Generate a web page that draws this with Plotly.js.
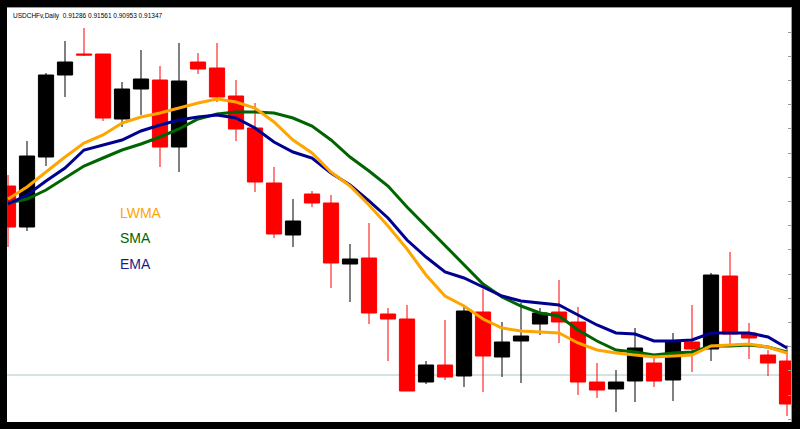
<!DOCTYPE html>
<html>
<head>
<meta charset="utf-8">
<script src="https://cdn.plot.ly/plotly-3.0.1.min.js"></script>
<style>
html,body{margin:0;padding:0;background:#ffffff;}
#chart{width:800px;height:429px;}
</style>
</head>
<body>
<div id="chart"></div>
<script>
// Daily candles (index = bar number)
var bars = [0,1,2,3,4,5,6,7,8,9,10,11,12,13,14,15,16,17,18,19,20,21,22,23,24,25,26,27,28,29,30,31,32,33,34,35,36,37,38,39,40,41];
var openP  = [0.9314,0.9273,0.9343,0.9425,0.9446,0.9446,0.9381,0.9411,0.9420,0.9353,0.9438,0.9432,0.9404,0.9372,0.9317,0.9265,0.9306,0.9297,0.9236,0.9242,0.9186,0.9181,0.9118,0.9135,0.9124,0.9188,0.9143,0.9159,0.9176,0.9188,0.9178,0.9118,0.9111,0.9119,0.9137,0.9120,0.9158,0.9151,0.9224,0.9167,0.9145,0.9139];
var highP  = [0.9325,0.9359,0.9427,0.9459,0.9472,0.9446,0.9418,0.9450,0.9434,0.9457,0.9447,0.9457,0.9420,0.9397,0.9333,0.9301,0.9309,0.9305,0.9256,0.9277,0.9192,0.9195,0.9139,0.9180,0.9193,0.9211,0.9178,0.9197,0.9192,0.9220,0.9193,0.9137,0.9130,0.9172,0.9145,0.9167,0.9195,0.9227,0.9248,0.9177,0.9150,0.9155];
var lowP   = [0.9253,0.9269,0.9334,0.9403,0.9444,0.9379,0.9373,0.9385,0.9333,0.9328,0.9426,0.9398,0.9359,0.9308,0.9262,0.9253,0.9293,0.9212,0.9198,0.9176,0.9139,0.9109,0.9116,0.9120,0.9113,0.9108,0.9123,0.9117,0.9165,0.9157,0.9105,0.9102,0.9088,0.9098,0.9113,0.9099,0.9128,0.9139,0.9154,0.9141,0.9124,0.9084];
var closeP = [0.9273,0.9344,0.9425,0.9438,0.9445,0.9382,0.9411,0.9421,0.9353,0.9419,0.9431,0.9403,0.9371,0.9318,0.9266,0.9279,0.9297,0.9237,0.9241,0.9187,0.9181,0.9109,0.9135,0.9123,0.9189,0.9144,0.9158,0.9164,0.9187,0.9178,0.9118,0.9110,0.9118,0.9152,0.9119,0.9158,0.9151,0.9225,0.9166,0.9162,0.9137,0.9096];

// Moving averages
var lwma = [0.9301,0.9313,0.9328,0.9343,0.9357,0.9365,0.9377,0.9383,0.9387,0.9392,0.9397,0.9401,0.9398,0.9392,0.9378,0.9360,0.9347,0.9328,0.9314,0.9295,0.9274,0.9251,0.9225,0.9204,0.9194,0.9181,0.9172,0.9169,0.9168,0.9167,0.9157,0.9150,0.9147,0.9145,0.9143,0.9144,0.9145,0.9154,0.9155,0.9156,0.9153,0.9147];
var sma  = [0.9297,0.9301,0.9310,0.9322,0.9334,0.9342,0.9350,0.9356,0.9363,0.9371,0.9381,0.9386,0.9388,0.9388,0.9387,0.9382,0.9374,0.9360,0.9343,0.9329,0.9314,0.9293,0.9274,0.9255,0.9235,0.9216,0.9203,0.9194,0.9187,0.9184,0.9170,0.9159,0.9150,0.9148,0.9145,0.9147,0.9148,0.9154,0.9154,0.9155,0.9153,0.9148];
var ema  = [0.9296,0.9305,0.9319,0.9332,0.9350,0.9355,0.9360,0.9369,0.9375,0.9380,0.9383,0.9385,0.9382,0.9372,0.9358,0.9348,0.9342,0.9327,0.9315,0.9299,0.9282,0.9260,0.9243,0.9228,0.9222,0.9213,0.9204,0.9199,0.9197,0.9195,0.9185,0.9175,0.9167,0.9166,0.9159,0.9159,0.9160,0.9167,0.9167,0.9167,0.9163,0.9152];

var levelLine = 0.9125;
var titleText = 'USDCHFv,Daily  0.91286 0.91561 0.90953 0.91347';
var maNames = ['LWMA','SMA','EMA'];

var traces = [
  {type:'scatter', mode:'lines', x:bars, y:sma, line:{color:'#006400', width:3}, hoverinfo:'skip'},
  {type:'scatter', mode:'lines', x:bars, y:ema, line:{color:'#000090', width:3}, hoverinfo:'skip'},
  {type:'scatter', mode:'lines', x:bars, y:lwma, line:{color:'#FFA500', width:3}, hoverinfo:'skip'},
  {type:'candlestick', x:bars, open:openP, high:highP, low:lowP, close:closeP,
   increasing:{line:{color:'#000000', width:1}, fillcolor:'#000000'},
   decreasing:{line:{color:'#FF0000', width:1}, fillcolor:'#FF0000'},
   whiskerwidth:0, hoverinfo:'skip'}
];

var layout = {
  width:800, height:429,
  margin:{l:7, r:9, t:8, b:7, pad:0},
  paper_bgcolor:'#000000',
  plot_bgcolor:'#ffffff',
  showlegend:false,
  boxgap:0.2, boxgroupgap:0,
  xaxis:{range:[-0.053,41.21], showgrid:false, zeroline:false, showticklabels:false, ticks:'', rangeslider:{visible:false}, fixedrange:true,
         showline:true, side:'top', linecolor:'#9a9a9a', linewidth:1},
  yaxis:{range:[0.9078,0.9492], showgrid:false, zeroline:false, showticklabels:false, fixedrange:true,
         side:'right', showline:true, linecolor:'#9a9a9a', linewidth:1,
         ticks:'inside', ticklen:3, tickcolor:'#9a9a9a', tickmode:'linear', tick0:0.9468, dtick:0.00242},
  shapes:[
    {type:'line', xref:'paper', x0:0, x1:1, yref:'y', y0:levelLine, y1:levelLine, line:{color:'#a9c6c6', width:1}, layer:'below'}
  ],
  annotations:[
    {xref:'paper', yref:'paper', x:0.005, y:0.995, xanchor:'left', yanchor:'top', text:titleText, showarrow:false, font:{family:'Liberation Sans, Arial, sans-serif', size:6.5, color:'#000000'}},
    {xref:'paper', yref:'paper', x:0.1416, y:0.5048, xanchor:'left', yanchor:'middle', text:maNames[0], showarrow:false, font:{family:'Liberation Sans, Arial, sans-serif', size:14, color:'#FFA500'}},
    {xref:'paper', yref:'paper', x:0.1416, y:0.4444, xanchor:'left', yanchor:'middle', text:maNames[1], showarrow:false, font:{family:'Liberation Sans, Arial, sans-serif', size:14, color:'#006400'}},
    {xref:'paper', yref:'paper', x:0.1416, y:0.3816, xanchor:'left', yanchor:'middle', text:maNames[2], showarrow:false, font:{family:'Liberation Sans, Arial, sans-serif', size:14, color:'#1a1a8c'}}
  ]
};

Plotly.newPlot('chart', traces, layout, {staticPlot:true, displayModeBar:false});
</script>
</body>
</html>
